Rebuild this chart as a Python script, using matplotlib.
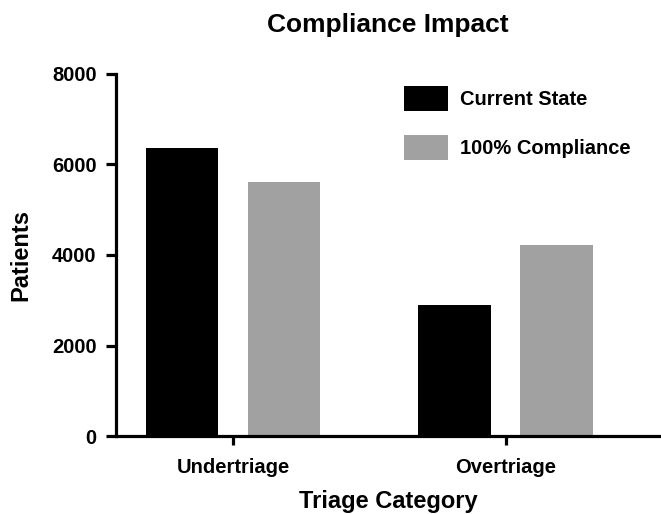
import matplotlib
matplotlib.use("Agg")
import matplotlib.pyplot as plt
import numpy as np

categories = ["Undertriage", "Overtriage"]
current_state = [6355, 2895]
full_compliance = [5610, 4220]
series_names = ["Current State", "100% Compliance"]
yticks = [0, 2000, 4000, 6000, 8000]

plt.rcParams['font.family'] = ['Liberation Sans', 'DejaVu Sans']
plt.rcParams['font.weight'] = 'bold'

fig = plt.figure(figsize=(6.61, 5.14), dpi=100)
ax = fig.add_axes([116 / 661, 1 - 436 / 514, 544 / 661, 362 / 514])

x = np.arange(len(categories))
width = 0.267
offset = 0.187
ax.bar(x - offset, current_state, width, color="black", label=series_names[0])
ax.bar(x + offset, full_compliance, width, color="#a1a1a1", label=series_names[1])

ax.set_xlim(-0.429, 1.565)
ax.set_ylim(0, 8000)
ax.set_yticks(yticks)
ax.set_xticks(x)
ax.set_xticklabels(categories)

for side in ["top", "right"]:
    ax.spines[side].set_visible(False)
for side in ["left", "bottom"]:
    ax.spines[side].set_linewidth(2.3)
ax.tick_params(axis="y", length=7, width=2.3, pad=7, labelsize=14.5)
ax.tick_params(axis="x", length=6.5, width=2.3, pad=9, labelsize=14.5)

ax.set_ylabel("Patients", fontsize=17, fontweight="bold", labelpad=14)
ax.set_xlabel("Triage Category", fontsize=17, fontweight="bold", labelpad=10)
ax.set_title("Compliance Impact", fontsize=19, fontweight="bold", pad=30)

ax.legend(loc="upper left", bbox_to_anchor=(404 / 661, 1 - 85.7 / 514),
          bbox_transform=fig.transFigure, frameon=False, fontsize=14.5,
          handlelength=2.19, handleheight=1.54, handletextpad=0.6,
          labelspacing=1.2, borderpad=0, borderaxespad=0)

fig.savefig("out.png", dpi=100)
